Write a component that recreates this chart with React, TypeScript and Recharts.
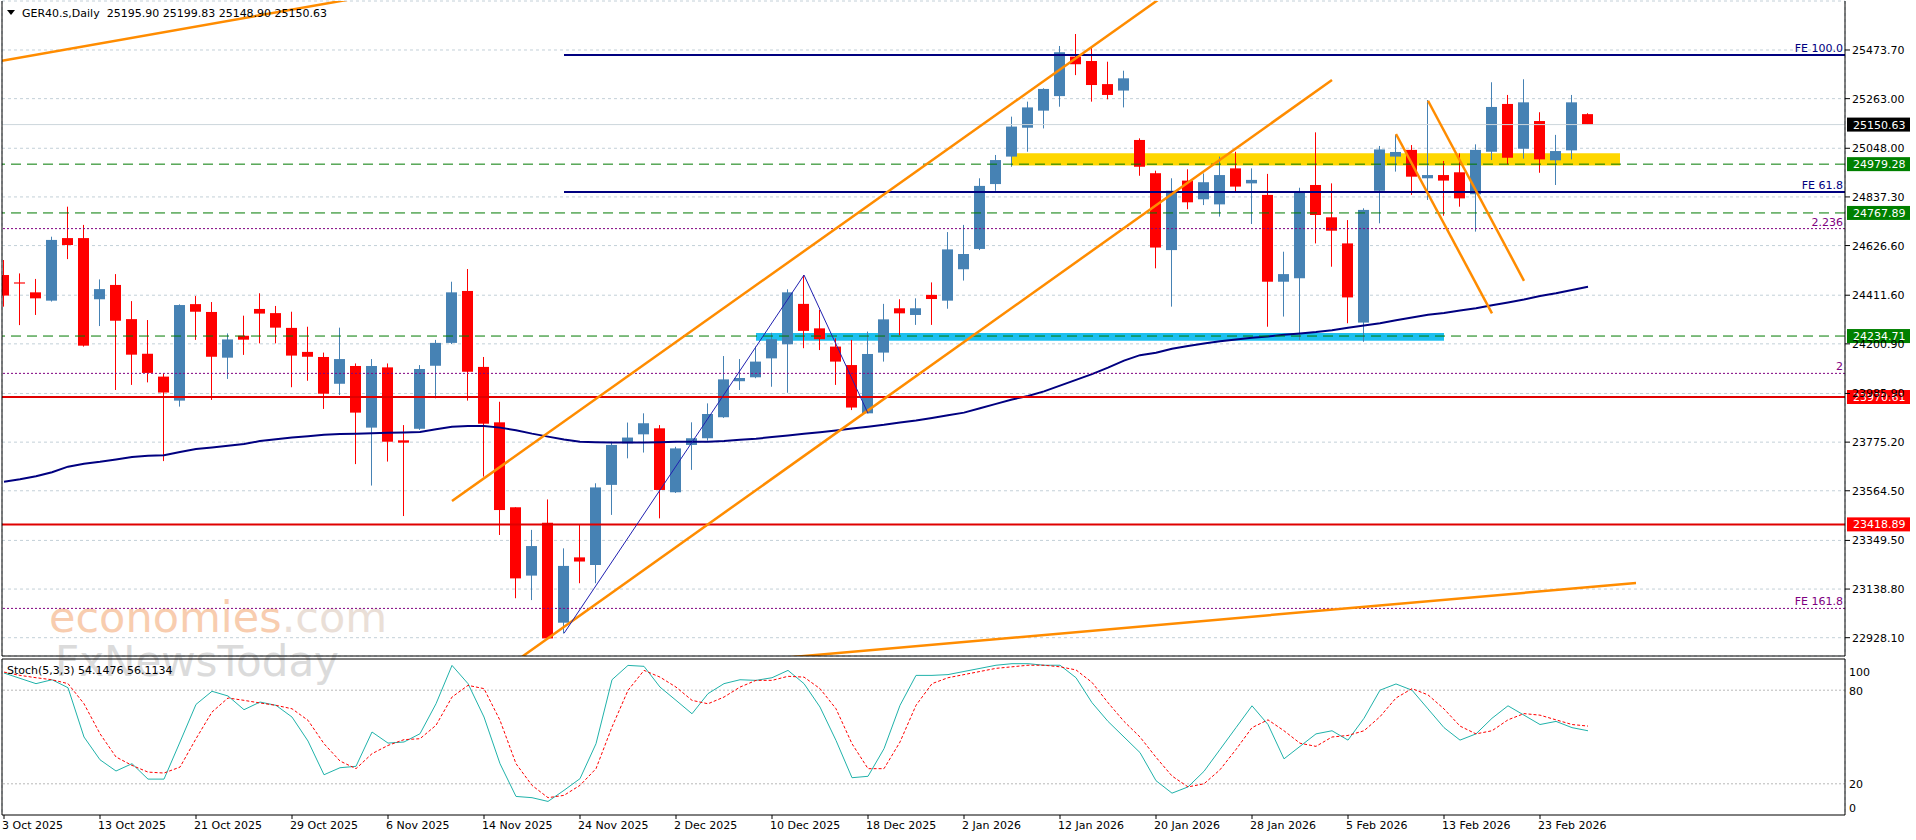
import React from 'react';
import {
  ComposedChart,
  Bar,
  Line,
  XAxis,
  YAxis,
  CartesianGrid,
  ReferenceLine,
  ReferenceArea,
} from 'recharts';

// ---- bars (GER40 daily, 3 Oct 2025 - 26 Feb 2026)
const dates = [
  '2025-10-03', '2025-10-06', '2025-10-07', '2025-10-08', '2025-10-09', '2025-10-10', '2025-10-13', '2025-10-14', '2025-10-15', '2025-10-16',
  '2025-10-17', '2025-10-20', '2025-10-21', '2025-10-22', '2025-10-23', '2025-10-24', '2025-10-27', '2025-10-28', '2025-10-29', '2025-10-30',
  '2025-10-31', '2025-11-03', '2025-11-04', '2025-11-05', '2025-11-06', '2025-11-07', '2025-11-10', '2025-11-11', '2025-11-12', '2025-11-13',
  '2025-11-14', '2025-11-17', '2025-11-18', '2025-11-19', '2025-11-20', '2025-11-21', '2025-11-24', '2025-11-25', '2025-11-26', '2025-11-27',
  '2025-11-28', '2025-12-01', '2025-12-02', '2025-12-03', '2025-12-04', '2025-12-05', '2025-12-08', '2025-12-09', '2025-12-10', '2025-12-11',
  '2025-12-12', '2025-12-15', '2025-12-16', '2025-12-17', '2025-12-18', '2025-12-19', '2025-12-22', '2025-12-23', '2025-12-29', '2025-12-30',
  '2026-01-02', '2026-01-05', '2026-01-06', '2026-01-07', '2026-01-08', '2026-01-09', '2026-01-12', '2026-01-13', '2026-01-14', '2026-01-15',
  '2026-01-16', '2026-01-19', '2026-01-20', '2026-01-21', '2026-01-22', '2026-01-23', '2026-01-26', '2026-01-27', '2026-01-28', '2026-01-29',
  '2026-01-30', '2026-02-02', '2026-02-03', '2026-02-04', '2026-02-05', '2026-02-06', '2026-02-09', '2026-02-10', '2026-02-11', '2026-02-12',
  '2026-02-13', '2026-02-16', '2026-02-17', '2026-02-18', '2026-02-19', '2026-02-20', '2026-02-23', '2026-02-24', '2026-02-25', '2026-02-26',
];

const opens = [
  24499, 24467, 24424, 24388, 24659, 24659, 24394, 24456, 24308, 24158,
  24059, 23955, 24373, 24339, 24141, 24236, 24352, 24334, 24270, 24166,
  24144, 24028, 24105, 23838, 24099, 23783, 23833, 24106, 24205, 24430,
  24101, 23861, 23493, 23197, 23426, 22993, 23276, 23243, 23590, 23770,
  23809, 23835, 23558, 23763, 23792, 23883, 24039, 24056, 24138, 24199,
  24374, 24268, 24189, 24109, 23900, 24163, 24355, 24326, 24413, 24388,
  24524, 24612, 24893, 25012, 25137, 25211, 25274, 25445, 25426, 25326,
  25298, 25084, 24940, 24607, 24908, 24827, 24805, 24961, 24896, 24846,
  24470, 24485, 24889, 24749, 24636, 24293, 24864, 25012, 25041, 24918,
  24932, 24944, 24849, 25033, 25240, 25046, 25166, 24996, 25039, 25195.9,
];
const highs = [
  24564, 24506, 24482, 24665, 24795, 24716, 24480, 24503, 24386, 24304,
  24073, 24372, 24408, 24382, 24246, 24323, 24420, 24365, 24340, 24275,
  24163, 24271, 24116, 24135, 24116, 23849, 24109, 24218, 24470, 24525,
  24144, 23950, 23493, 23395, 23527, 23315, 23416, 23597, 23777, 23860,
  23900, 23849, 23755, 23861, 23943, 24148, 24135, 24189, 24249, 24437,
  24499, 24348, 24225, 24218, 24254, 24374, 24394, 24398, 24467, 24685,
  24716, 24918, 25019, 25185, 25250, 25308, 25491, 25543, 25491, 25423,
  25384, 25091, 24951, 24918, 24957, 24939, 25012, 25033, 24961, 24937,
  24600, 24877, 25117, 24896, 24737, 24788, 25058, 25106, 25062, 25257,
  24993, 25026, 25065, 25334, 25279, 25347, 25204, 25106, 25279, 25199.83,
];
const lows = [
  24362, 24282, 24326, 24384, 24568, 24189, 24278, 24001, 24023, 24034,
  23693, 23929, 24218, 23958, 24049, 24153, 24203, 24203, 24013, 24041,
  23919, 23979, 23680, 23587, 23691, 23455, 23828, 23965, 24200, 23955,
  23626, 23373, 23099, 23091, 22922, 22947, 23164, 23164, 23460, 23705,
  23730, 23445, 23555, 23655, 23782, 23880, 24001, 24052, 24015, 23989,
  24182, 24174, 24023, 23914, 23900, 24124, 24239, 24283, 24283, 24353,
  24475, 24607, 24864, 24968, 25033, 25134, 25228, 25365, 25250, 25260,
  25225, 24929, 24528, 24362, 24784, 24802, 24752, 24860, 24720, 24275,
  24319, 24218, 24636, 24535, 24290, 24210, 24723, 24947, 24846, 24824,
  24756, 24795, 24687, 24997, 24979, 25003, 24942, 24889, 25000, 25148.9,
];
const closes = [
  24410, 24462, 24398, 24651, 24629, 24193, 24438, 24301, 24154, 24075,
  23990, 24369, 24340, 24145, 24220, 24219, 24332, 24271, 24150, 24145,
  23985, 24135, 23903, 24105, 23777, 23773, 24092, 24205, 24424, 24080,
  23855, 23481, 23185, 23325, 22925, 23239, 23258, 23579, 23763, 23795,
  23857, 23568, 23748, 23792, 23897, 24047, 24053, 24124, 24221, 24424,
  24257, 24221, 24124, 23925, 24157, 24307, 24333, 24355, 24395, 24610,
  24590, 24885, 24997, 25142, 25225, 25305, 25464, 25412, 25322, 25279,
  25351, 24968, 24618, 24864, 24814, 24901, 24932, 24882, 24911, 24470,
  24503, 24863, 24759, 24691, 24402, 24781, 25043, 25032, 24925, 24932,
  24908, 24831, 25041, 25227, 25007, 25247, 25000, 25036, 25247, 25150.63,
];

// moving average (navy)
const maValues = [
  23604, 23614, 23627, 23645, 23669, 23682, 23690, 23700, 23711, 23716,
  23718, 23732, 23745, 23752, 23760, 23767, 23780, 23788, 23795, 23801,
  23807, 23810, 23812, 23814, 23816, 23817, 23819, 23831, 23842, 23845,
  23845, 23838, 23827, 23812, 23799, 23787, 23777, 23775, 23774, 23774,
  23774, 23775, 23777, 23777, 23777, 23780, 23785, 23790, 23797, 23804,
  23811, 23818, 23826, 23834, 23842, 23850, 23860, 23869, 23880, 23892,
  23903, 23922, 23941, 23960, 23975, 23995, 24020, 24045, 24070, 24098,
  24128, 24152, 24162, 24180, 24192, 24202, 24212, 24220, 24227, 24233,
  24240, 24246, 24252, 24260, 24271, 24280, 24290, 24303, 24315, 24327,
  24335, 24345, 24355, 24368, 24380, 24393, 24408, 24420, 24434, 24448,
];

// Stochastic (5,3,3)
const stochK = [
  91.0, 87.6, 84.2, 86.7, 81.6, 50.0, 35.4, 28.2, 32.9, 23.0,
  23.0, 46.8, 70.9, 79.3, 76.3, 67.5, 72.4, 70.3, 62.8, 47.4,
  25.8, 30.3, 31.2, 53.2, 46.1, 46.8, 52.1, 71.3, 95.9, 84.2,
  62.8, 32.9, 11.9, 11.1, 8.7, 15.8, 23.3, 45.7, 86.7, 95.9,
  95.3, 82.0, 73.5, 64.9, 77.8, 84.2, 86.7, 86.3, 88.0, 92.7,
  84.2, 69.2, 47.8, 23.9, 24.8, 42.5, 70.3, 89.5, 89.5, 90,
  92, 94, 96, 97, 97, 96, 96, 88, 72, 60,
  50, 40, 22, 14, 18, 28, 42, 56, 70, 58,
  36, 44, 52, 54, 48, 62, 80, 84, 80, 68,
  56, 48, 52, 62, 70, 64, 58, 60, 56, 54,
];
const stochD = [
  91.6, 89.5, 88.0, 86.7, 84.2, 71.3, 52.1, 37.2, 31.8, 27.5,
  26.9, 30.7, 48.9, 66.0, 75.0, 73.5, 71.8, 70.3, 68.1, 60.7,
  45.7, 34.6, 29.7, 39.3, 44.6, 48.3, 48.9, 57.5, 75.6, 83.1,
  81.0, 60.7, 32.9, 19.0, 11.1, 12.6, 19.0, 29.7, 56.4, 79.9,
  92.7, 88.4, 82.0, 73.5, 71.3, 75.6, 82.0, 86.3, 86.3, 88.9,
  88.4, 81.0, 68.1, 45.7, 29.7, 29.7, 46.8, 70.3, 84.2, 88,
  90, 92, 94, 95, 96, 96, 95, 93, 85, 72,
  60, 50, 37, 25, 18, 20, 29, 42, 56, 61,
  54, 46, 44, 50, 51, 54, 63, 75, 81, 77,
  68, 57, 52, 54, 61, 65, 64, 61, 58, 57,
];

// ---- axis ticks
const priceTicks = [
  25473.7, 25263.0, 25048.0, 24837.3, 24626.6, 24411.6, 24200.9,
  23985.9, 23775.2, 23564.5, 23349.5, 23138.8, 22928.1,
];
const gridTicks = [
  0, 3, 6, 9, 12, 15, 18, 21, 24, 27, 30, 33, 36, 39, 42, 45, 48, 51, 54, 57,
  60, 63, 66, 69, 72, 75, 78, 81, 84, 87, 90, 93, 96, 99, 102, 105, 108, 111, 114,
];
const dateTickIdx = [0, 6, 12, 18, 24, 30, 36, 42, 48, 54, 60, 66, 72, 78, 84, 90, 96];
const dateTickLabels = [
  '3 Oct 2025', '13 Oct 2025', '21 Oct 2025', '29 Oct 2025', '6 Nov 2025', '14 Nov 2025',
  '24 Nov 2025', '2 Dec 2025', '10 Dec 2025', '18 Dec 2025', '2 Jan 2026', '12 Jan 2026',
  '20 Jan 2026', '28 Jan 2026', '5 Feb 2026', '13 Feb 2026', '23 Feb 2026',
];
const stochTicks = [0, 20, 80, 100];

// ---- drawn objects
const bidPrice = 25150.63;
const greenLevels = [24979.28, 24767.89, 24234.71];
const redLevels = [23970.61, 23418.89];
const fibStart = 35;
const fibLevels = [
  { price: 25452, label: 'FE 100.0' },
  { price: 24859, label: 'FE 61.8' },
];
const dottedLevels = [
  { price: 24700, label: '2.236' },
  { price: 24073, label: '2' },
  { price: 23055, label: 'FE 161.8' },
];
const zigzag = [
  { x: 35, y: 22947 },
  { x: 50, y: 24499 },
  { x: 54, y: 23900 },
];
const trendLines = [
  [{ x: -0.125, y: 25426.6 }, { x: 22, y: 25697.6 }],
  [{ x: 28, y: 23520 }, { x: 75, y: 25832 }],
  [{ x: 32, y: 22827 }, { x: 83, y: 25344 }],
  [{ x: 40, y: 22788 }, { x: 102, y: 23165 }],
  [{ x: 87, y: 25110 }, { x: 93, y: 24333 }],
  [{ x: 89, y: 25254 }, { x: 95, y: 24474 }],
];
const zones = [
  { x1: 63, x2: 101, y1: 24973.4, y2: 25026.2, fill: '#ffd700' },
  { x1: 47, x2: 90, y1: 24214.5, y2: 24247.9, fill: '#1ec0f0' },
];

const rows = dates.map((date, i) => ({
  i,
  date,
  o: opens[i],
  h: highs[i],
  l: lows[i],
  c: closes[i],
  ma: maValues[i],
  k: stochK[i],
  d: stochD[i],
}));

const FONT = '"DejaVu Sans", Verdana, sans-serif';
const X_DOMAIN: [number, number] = [-0.125, 115.0625];
const GRID = '#c3d0d8';

const Candle = (props: any) => {
  const { x, y, width, height, payload } = props;
  if (x == null || y == null) return null;
  const { o, h, l, c } = payload;
  const top = Math.min(y, y + height);
  const bottom = Math.max(y, y + height);
  const k = h === l ? 0 : (bottom - top) / (h - l);
  const py = (v: number) => top + (h - v) * k;
  const color = c >= o ? '#4682b4' : '#ff0000';
  const bt = py(Math.max(o, c));
  const bb = py(Math.min(o, c));
  const cx = x + width / 2;
  return (
    <g>
      <line x1={cx} x2={cx} y1={top} y2={bottom} stroke={color} strokeWidth={1} />
      <rect x={x} y={bt} width={width} height={Math.max(1, bb - bt)} fill={color} />
    </g>
  );
};

const PriceTick = (props: any) => {
  const { x, y, payload } = props;
  return (
    <text x={x} y={y} dy={4} fontSize={11} fontFamily={FONT} fill="#000">
      {payload.value.toFixed(2)}
    </text>
  );
};

const StochTick = (props: any) => {
  const { x, y, payload } = props;
  let shift = 0;
  if (payload.value === 100) shift = 6;
  if (payload.value === 80) shift = 1;
  if (payload.value === 0) shift = -7;
  return (
    <text x={x} y={y + shift} dy={4} fontSize={11} fontFamily={FONT} fill="#000">
      {payload.value}
    </text>
  );
};

const DateTick = (props: any) => {
  const { x, y, payload } = props;
  const label = dateTickLabels[dateTickIdx.indexOf(payload.value)];
  return (
    <text x={x - 2} y={y} dy="0.71em" fontSize={11} fontFamily={FONT} fill="#000">
      {label}
    </text>
  );
};

const LevelLabel = (props: any) => {
  const { viewBox, text, color } = props;
  if (!viewBox) return null;
  return (
    <text
      x={viewBox.x + viewBox.width - 2}
      y={viewBox.y - 3}
      textAnchor="end"
      fontSize={11}
      fontFamily={FONT}
      fill={color}
    >
      {text}
    </text>
  );
};

const PriceTag = (props: any) => {
  const { viewBox, value, bg } = props;
  if (!viewBox) return null;
  const left = viewBox.x + viewBox.width + 2;
  return (
    <g>
      <rect x={left} y={viewBox.y - 7} width={63} height={14} fill={bg} />
      <text x={left + 6} y={viewBox.y + 4} fontSize={11} fontFamily={FONT} fill="#fff">
        {value.toFixed(2)}
      </text>
    </g>
  );
};

function MainChart() {
  return (
    <ComposedChart
      width={1916}
      height={657}
      data={rows}
      margin={{ top: 1, right: 0, bottom: 0, left: 0 }}
    >
      <CartesianGrid stroke={GRID} strokeDasharray="3 3" />
      <XAxis
        dataKey="i"
        type="number"
        domain={X_DOMAIN}
        ticks={gridTicks}
        allowDataOverflow
        height={1}
        tick={false}
        tickLine={false}
        axisLine={{ stroke: '#000' }}
      />
      <YAxis
        orientation="right"
        domain={[22848.81, 25685.94]}
        ticks={priceTicks}
        allowDataOverflow
        width={71}
        tick={<PriceTick />}
        tickSize={5}
        tickMargin={2}
        tickLine={{ stroke: '#000' }}
        axisLine={{ stroke: '#000' }}
      />
      <YAxis yAxisId="edge" orientation="left" width={2} tick={false} tickLine={false} axisLine={{ stroke: '#000' }} />

      {zones.map((z, n) => (
        <ReferenceArea key={'z' + n} x1={z.x1} x2={z.x2} y1={z.y1} y2={z.y2} fill={z.fill} fillOpacity={1} stroke="none" />
      ))}

      <Bar dataKey={(r: any) => [r.l, r.h]} barSize={11} shape={<Candle />} isAnimationActive={false} />
      <Line dataKey="ma" stroke="#000080" strokeWidth={2} dot={false} activeDot={false} isAnimationActive={false} />

      <ReferenceLine y={bidPrice} stroke="#cdd6dc" strokeWidth={1} label={<PriceTag value={bidPrice} bg="#000" />} />
      {greenLevels.map((p) => (
        <ReferenceLine
          key={'g' + p}
          y={p}
          stroke="#007a00"
          strokeDasharray="10 6"
          label={<PriceTag value={p} bg="#008000" />}
        />
      ))}
      {redLevels.map((p) => (
        <ReferenceLine
          key={'r' + p}
          y={p}
          stroke="#e00000"
          strokeWidth={2}
          label={<PriceTag value={p} bg="#ff0000" />}
        />
      ))}
      {dottedLevels.map((f) => (
        <ReferenceLine
          key={'d' + f.label}
          y={f.price}
          stroke="#800080"
          strokeDasharray="2 2"
          label={<LevelLabel text={f.label} color="#800080" />}
        />
      ))}
      {fibLevels.map((f) => (
        <ReferenceLine
          key={'f' + f.label}
          segment={[{ x: fibStart, y: f.price }, { x: X_DOMAIN[1], y: f.price }]}
          stroke="#000080"
          strokeWidth={2}
          ifOverflow="hidden"
          label={<LevelLabel text={f.label} color="#000080" />}
        />
      ))}
      {trendLines.map((seg, n) => (
        <ReferenceLine key={'t' + n} segment={seg} stroke="#ff8c00" strokeWidth={2.5} ifOverflow="hidden" />
      ))}
      {zigzag.slice(1).map((p, n) => (
        <ReferenceLine key={'zz' + n} segment={[zigzag[n], p]} stroke="#2020b0" strokeWidth={1} ifOverflow="hidden" />
      ))}
    </ComposedChart>
  );
}

function StochChart() {
  return (
    <ComposedChart
      width={1916}
      height={183}
      data={rows}
      margin={{ top: 1, right: 0, bottom: 0, left: 0 }}
    >
      <XAxis
        xAxisId="top"
        orientation="top"
        dataKey="i"
        type="number"
        domain={X_DOMAIN}
        ticks={gridTicks}
        allowDataOverflow
        height={1}
        tick={false}
        tickLine={false}
        axisLine={{ stroke: '#000' }}
      />
      <XAxis
        dataKey="i"
        type="number"
        domain={X_DOMAIN}
        ticks={dateTickIdx}
        allowDataOverflow
        height={25}
        tick={<DateTick />}
        tickSize={4}
        tickMargin={2}
        tickLine={{ stroke: '#000' }}
        axisLine={{ stroke: '#000' }}
      />
      <CartesianGrid xAxisId="top" stroke={GRID} strokeDasharray="3 3" horizontal={false} />
      <YAxis
        orientation="right"
        domain={[0, 100]}
        ticks={stochTicks}
        allowDataOverflow
        width={71}
        tick={<StochTick />}
        tickSize={2}
        tickMargin={2}
        tickLine={false}
        axisLine={{ stroke: '#000' }}
      />
      <YAxis yAxisId="edge" orientation="left" width={2} tick={false} tickLine={false} axisLine={{ stroke: '#000' }} />
      <ReferenceLine y={80} stroke="#b8b8b8" strokeDasharray="2 2" />
      <ReferenceLine y={20} stroke="#b8b8b8" strokeDasharray="2 2" />
      <Line dataKey="k" stroke="#20b2aa" strokeWidth={1} dot={false} activeDot={false} isAnimationActive={false} />
      <Line
        dataKey="d"
        stroke="#ff0000"
        strokeWidth={1}
        strokeDasharray="3 2"
        dot={false}
        activeDot={false}
        isAnimationActive={false}
      />
    </ComposedChart>
  );
}

export default function App() {
  return (
    <div
      style={{
        position: 'absolute',
        left: 0,
        top: 0,
        width: 1916,
        height: 840,
        background: '#fff',
        overflow: 'hidden',
        fontFamily: FONT,
      }}
    >
      <svg width={1916} height={840} style={{ position: 'absolute', left: 0, top: 0 }}>
        <text x={49} y={632} fontSize={43} fontFamily={FONT} opacity={0.55}>
          <tspan fill="#f3a56e">economies</tspan>
          <tspan fill="#d9c6b8">.com</tspan>
        </text>
        <text x={55} y={676} fontSize={42} fontFamily={FONT} fill="#c4c4c4" opacity={0.6}>
          FxNewsToday
        </text>
      </svg>
      <div style={{ position: 'absolute', left: 0, top: 0 }}>
        <MainChart />
      </div>
      <div style={{ position: 'absolute', left: 0, top: 657 }}>
        <StochChart />
      </div>
      <svg width={1916} height={840} style={{ position: 'absolute', left: 0, top: 0, pointerEvents: 'none' }}>
        <polygon points="7,10 15,10 11,15" fill="#000" />
        <text x={22} y={17} fontSize={11} fontFamily={FONT} fill="#000" style={{ whiteSpace: 'pre' }}>
          {'GER40.s,Daily  25195.90 25199.83 25148.90 25150.63'}
        </text>
        <text x={7} y={674} fontSize={11} fontFamily={FONT} fill="#000" style={{ whiteSpace: 'pre' }}>
          {'Stoch(5,3,3) 54.1476 56.1134'}
        </text>
      </svg>
    </div>
  );
}
